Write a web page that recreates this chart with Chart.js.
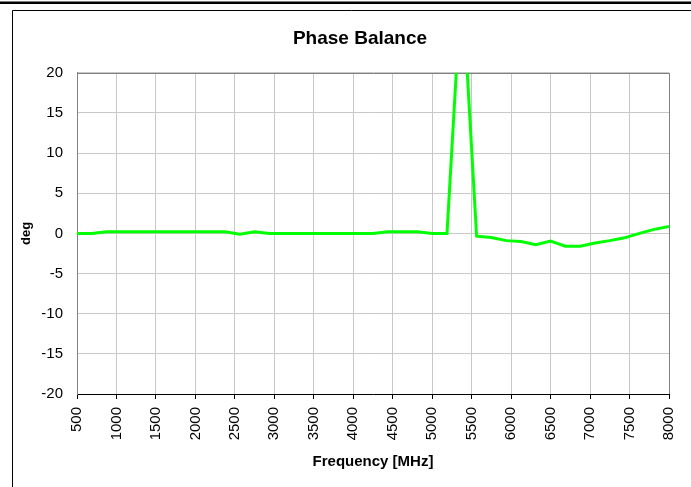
<!DOCTYPE html>
<html>
<head>
<meta charset="utf-8">
<script src="https://cdn.jsdelivr.net/npm/chart.js@4/dist/chart.umd.min.js"></script>
<style>
  html, body { margin: 0; padding: 0; background: #fff; }
  #wrap { width: 691px; height: 487px; }
</style>
</head>
<body>
<div id="wrap"><canvas id="_canvasc" width="691" height="487"></canvas></div>
<script>
// frequency points [MHz]
var freqs = [500, 687.5, 875, 1062.5, 1250, 1437.5, 1625, 1812.5, 2000, 2187.5,
             2375, 2562.5, 2750, 2937.5, 3125, 3312.5, 3500, 3687.5, 3875, 4062.5,
             4250, 4437.5, 4625, 4812.5, 5000, 5187.5, 5375, 5562.5, 5750, 5937.5,
             6125, 6312.5, 6500, 6687.5, 6875, 7062.5, 7250, 7437.5, 7625, 7812.5, 8000];
// phase balance [deg]
var phase = [0, 0, 0.2, 0.2, 0.2, 0.2, 0.2, 0.2, 0.2, 0.2,
             0.2, -0.1, 0.2, 0, 0, 0, 0, 0, 0, 0,
             0, 0.2, 0.2, 0.2, 0, 0, 32, -0.35, -0.5, -0.9,
             -1.0, -1.4, -0.95, -1.6, -1.6, -1.2, -0.9, -0.55, 0, 0.5, 0.85];
var xTicks = [500, 1000, 1500, 2000, 2500, 3000, 3500, 4000, 4500, 5000, 5500, 6000, 6500, 7000, 7500, 8000];
var yTicks = [20, 15, 10, 5, 0, -5, -10, -15, -20];

var FONT = "'Liberation Sans', Arial, sans-serif";

var points = freqs.map(function (f, i) { return { x: f, y: phase[i] }; });

// page frame + plot border
var framePlugin = {
    id: 'frame',
    afterLayout: function (chart) {
        var t = chart.titleBlock;
        if (t) {
            var shift = 360 - (t.left + t.right) / 2;
            t.left += shift;
            t.right += shift;
        }
    },
    beforeDraw: function (chart) {
        var c = chart.ctx;
        c.save();
        c.fillStyle = '#fff';
        c.fillRect(0, 0, chart.width, chart.height);
        c.fillStyle = '#000';
        c.fillRect(0, 1.5, chart.width, 2.5);
        c.strokeStyle = '#000';
        c.lineWidth = 1;
        c.beginPath();
        c.moveTo(12.5, chart.height);
        c.lineTo(12.5, 10.5);
        c.lineTo(chart.width, 10.5);
        c.stroke();
        c.restore();
    },
    beforeDatasetsDraw: function (chart) {
        var a = chart.chartArea, c = chart.ctx;
        c.save();
        c.strokeStyle = '#808080';
        c.lineWidth = 1;
        c.beginPath();
        c.moveTo(Math.round(a.left) + 0.5, Math.round(a.top) + 0.5);
        c.lineTo(Math.round(a.right) + 0.5, Math.round(a.top) + 0.5);
        c.lineTo(Math.round(a.right) + 0.5, Math.round(a.bottom));
        c.stroke();
        c.restore();
    }
};

var config = {
    type: 'line',
    data: {
        datasets: [{
            label: 'Phase Balance',
            data: points,
            borderColor: '#00ff00',
            backgroundColor: '#00ff00',
            borderWidth: 3,
            pointRadius: 0,
            tension: 0,
            fill: false
        }]
    },
    options: {
        responsive: false,
        animation: false,
        devicePixelRatio: 1,
        layout: { padding: { left: 14, right: 22, top: 0, bottom: 0 } },
        plugins: {
            legend: { display: false },
            tooltip: { enabled: false },
            title: {
                display: true,
                text: 'Phase Balance',
                color: '#000',
                font: { family: FONT, size: 19, weight: 'bold' },
                padding: { top: 27, bottom: 23 }
            }
        },
        scales: {
            x: {
                type: 'linear',
                min: 500,
                max: 8000,
                afterBuildTicks: function (s) { s.ticks = xTicks.map(function (v) { return { value: v }; }); },
                afterFit: function (s) {
                    s.height = 93;
                    s.paddingLeft = 0;
                    s.paddingRight = 0;
                },
                grid: { color: '#c8c8c8', tickColor: '#000', tickLength: 5, drawTicks: true },
                border: { color: '#000', width: 1 },
                ticks: {
                    color: '#000',
                    font: { family: FONT, size: 15 },
                    minRotation: 90,
                    maxRotation: 90,
                    padding: 8,
                    autoSkip: false,
                    callback: function (v) { return String(v); }
                },
                title: {
                    display: true,
                    text: 'Frequency [MHz]',
                    color: '#000',
                    font: { family: FONT, size: 15, weight: 'bold' },
                    padding: { top: 0, bottom: 16 }
                }
            },
            y: {
                min: -20,
                max: 20,
                afterBuildTicks: function (s) { s.ticks = yTicks.map(function (v) { return { value: v }; }); },
                afterFit: function (s) {
                    s.width = 63;
                    s.paddingTop = 0;
                    s.paddingBottom = 0;
                },
                grid: { color: '#c8c8c8', drawTicks: false },
                border: { color: '#808080', width: 1 },
                ticks: {
                    color: '#000',
                    font: { family: FONT, size: 15 },
                    padding: 14,
                    callback: function (v) { return String(v); }
                },
                title: {
                    display: true,
                    text: 'deg',
                    color: '#000',
                    font: { family: FONT, size: 13, weight: 'bold' },
                    padding: { top: 5, bottom: 0 }
                }
            }
        }
    },
    plugins: [framePlugin]
};

window.myChart = new Chart(document.getElementById('_canvasc'), config);
</script>
</body>
</html>
